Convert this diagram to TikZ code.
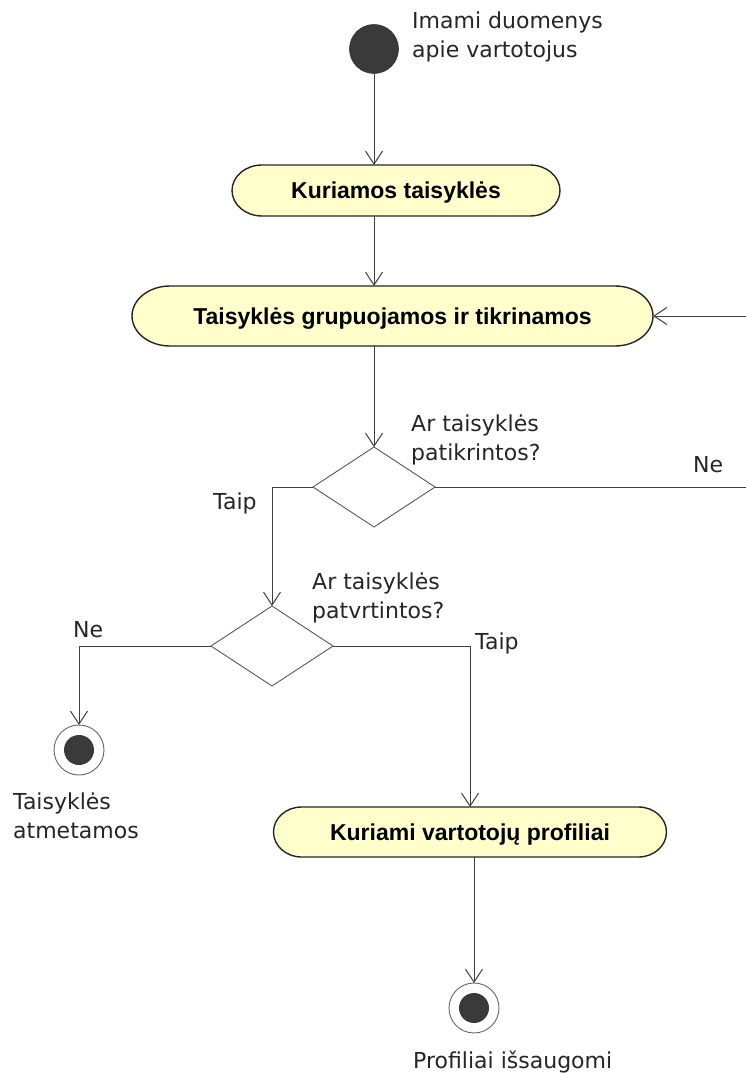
\documentclass[tikz,border=0pt]{standalone}
\usepackage{fontspec}
\usetikzlibrary{arrows.meta,shapes.geometric,backgrounds,calc}
\newfontfamily\labelfont{DejaVu Sans}
\newfontfamily\actfont{Liberation Sans}
\definecolor{actfill}{HTML}{FFFFCC}
\definecolor{edgegray}{HTML}{404040}
\definecolor{dotgray}{HTML}{3A3A3A}

% activity state outline: straight top and bottom, elliptical ends
\newcommand\actshape[3]{%
  \begin{pgfonlayer}{background}
    \draw[actedge] ([xshift=#2]#1.north west) -- ([xshift=-#2]#1.north east)
      arc[start angle=90,end angle=-90,x radius=#2,y radius=#3]
      -- ([xshift=#2]#1.south west)
      arc[start angle=270,end angle=90,x radius=#2,y radius=#3] -- cycle;
  \end{pgfonlayer}}

\tikzset{
  act/.style={rectangle,inner sep=0pt,outer sep=0pt,
    text height=16.5pt,text depth=0pt,
    font=\actfont\bfseries\fontsize{23}{27}\selectfont},
  actedge/.style={draw=black!85,line width=1.4pt,fill=actfill},
  decision/.style={diamond,draw=black!65,line width=0.9pt,fill=white,
    inner sep=0pt,outer sep=0pt,minimum width=122pt,minimum height=80pt},
  startstate/.style={circle,fill=dotgray,draw=black!80,line width=0.6pt,
    inner sep=0pt,outer sep=0pt,minimum size=49pt},
  endstate/.style={circle,draw=black!60,line width=0.9pt,fill=white,
    inner sep=0pt,outer sep=0pt,minimum size=50pt},
  enddot/.style={circle,fill=dotgray,inner sep=0pt,minimum size=30pt},
  flow/.style={draw=edgegray,line width=1pt,
    -{Straight Barb[length=13pt,width=17pt,line width=1pt]}},
  plain/.style={draw=edgegray,line width=1pt},
  lbl/.style={anchor=base west,inner sep=0pt,align=left,
    font=\labelfont\fontsize{22}{29}\selectfont,text=black!85},
}

\begin{document}
\begin{tikzpicture}[x=1pt,y=-1pt]
  \useasboundingbox (0,0) rectangle (745,1075);
  \begin{pgfonlayer}{background}
    \fill[white] (0,0) rectangle (745,1075);
  \end{pgfonlayer}

  % states
  \node[startstate] (s) at (374,49) {};
  \node[act,minimum width=328pt,minimum height=51pt] (a1) at (396,190.5) {Kuriamos taisyklės};
  \actshape{a1}{30pt}{25.5pt}
  \node[act,minimum width=521pt,minimum height=60pt] (a2) at (392.5,316) {Taisyklės grupuojamos ir tikrinamos};
  \actshape{a2}{38pt}{30pt}
  \node[decision] (d1) at (374,487) {};
  \node[decision] (d2) at (272,646) {};
  \node[endstate] (f1) at (79,750) {};
  \node[enddot] (f1dot) at (f1) {};
  \node[act,minimum width=393pt,minimum height=50pt] (a3) at (470,832) {Kuriami vartotojų profiliai};
  \actshape{a3}{28pt}{25pt}
  \node[endstate] (f2) at (474,1008) {};
  \node[enddot] (f2dot) at (f2) {};

  % return path that runs past the right margin
  \coordinate (back) at (775,400);

  % transitions
  \draw[flow] (s.south) -- (s.south |- a1.north);
  \draw[flow] (s.south |- a1.south) -- (s.south |- a2.north);
  \draw[flow] (a2.south -| d1.north) -- (d1.north);
  \draw[plain] (d1.east) -| (back);
  \draw[flow] (back) |- (a2.east);
  \draw[flow] (d1.west) -| (d2.north);
  \draw[flow] (d2.west) -| (f1.north);
  \draw[flow] (d2.east) -| (a3.north);
  \draw[flow] (a3.south -| f2.north) -- (f2.north);

  % texts (base anchor sits on the last line of a two-line label)
  \node[lbl] (tstart) at (412,58) {Imami duomenys\\apie vartotojus};
  \node[lbl] (tq1) at (411,460) {Ar taisyklės\\patikrintos?};
  \node[lbl] (tne1) at (693,472) {Ne};
  \node[lbl] (ttaip1) at (213,509) {Taip};
  \node[lbl] (tq2) at (312,618) {Ar taisyklės\\patvrtintos?};
  \node[lbl] (tne2) at (73,637) {Ne};
  \node[lbl] (ttaip2) at (475,649) {Taip};
  \node[lbl] (tend1) at (13,838) {Taisyklės\\atmetamos};
  \node[lbl] (tend2) at (413,1068) {Profiliai išsaugomi};
\end{tikzpicture}
\end{document}
